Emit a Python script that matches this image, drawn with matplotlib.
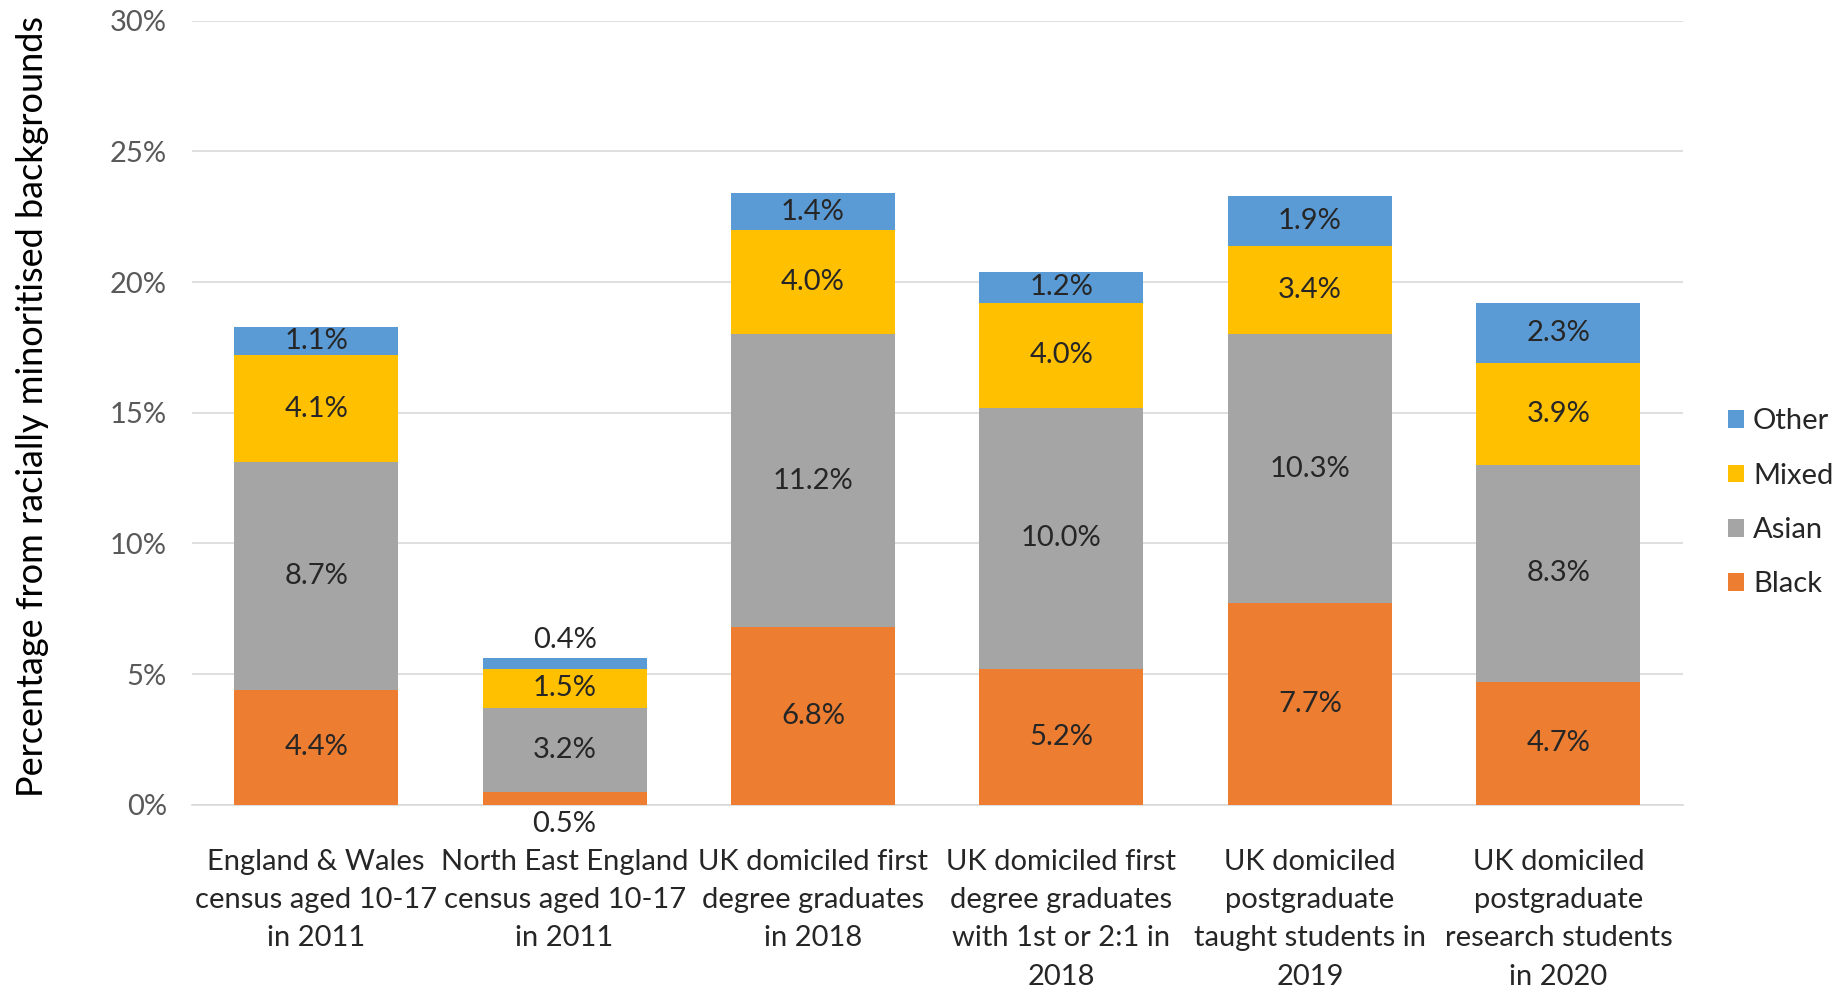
import matplotlib.pyplot as plt
import numpy as np

# categories and stacked series (percent)
categories = [
    "England & Wales\ncensus aged 10-17\nin 2011",
    "North East England\ncensus aged 10-17\nin 2011",
    "UK domiciled first\ndegree graduates\nin 2018",
    "UK domiciled first\ndegree graduates\nwith 1st or 2:1 in\n2018",
    "UK domiciled\npostgraduate\ntaught students in\n2019",
    "UK domiciled\npostgraduate\nresearch students\nin 2020",
]
black = [4.4, 0.5, 6.8, 5.2, 7.7, 4.7]
asian = [8.7, 3.2, 11.2, 10.0, 10.3, 8.3]
mixed = [4.1, 1.5, 4.0, 4.0, 3.4, 3.9]
other = [1.1, 0.4, 1.4, 1.2, 1.9, 2.3]

series = [("Black", black, "#ED7D31"),
          ("Asian", asian, "#A5A5A5"),
          ("Mixed", mixed, "#FFC000"),
          ("Other", other, "#5B9BD5")]

plt.rcParams['font.family'] = ['Lato', 'DejaVu Sans']

fig = plt.figure(figsize=(18.45, 9.91), dpi=100)
ax = fig.add_axes([0.104, 0.188, 0.808, 0.791])

x = np.arange(len(categories))
w = 0.66
bottom = np.zeros(len(categories))
for name, vals, col in series:
    vals = np.array(vals)
    ax.bar(x, vals, w, bottom=bottom, color=col, label=name, zorder=3)
    for i, v in enumerate(vals):
        if v < 1.0:
            # small segments: label outside the bar
            if name == "Black":
                ypos = -0.75
            else:
                ypos = bottom[i] + v + 0.7
        else:
            ypos = bottom[i] + v / 2
        ax.text(x[i], ypos, f"{v:.1f}%", ha='center', va='center',
                fontsize=21, color='#262626', zorder=4)
    bottom += vals

ax.set_xlim(-0.5, len(categories) - 0.5)
ax.set_ylim(0, 30)
ax.set_yticks(np.arange(0, 31, 5))
ax.set_yticklabels([f"{t}%" for t in range(0, 31, 5)], color='#595959', fontsize=21)
ax.set_xticks(x)
ax.set_xticklabels(categories, fontsize=21, color='#262626', linespacing=1.58)
ax.tick_params(axis='both', length=0)
ax.tick_params(axis='x', pad=32)
ax.tick_params(axis='y', pad=18)
ax.grid(axis='y', color='#D9D9D9', linewidth=1.2, zorder=0)
for s in ['top', 'right', 'left']:
    ax.spines[s].set_visible(False)
ax.spines['bottom'].set_color('#D9D9D9')
ax.spines['bottom'].set_linewidth(1.2)

ax.set_ylabel("Percentage from racially minoritised backgrounds", fontsize=26, color='#000000')
ax.yaxis.set_label_coords(-0.096, 0.508)

h, l = ax.get_legend_handles_labels()
ax.legend(h[::-1], l[::-1], loc='center left', bbox_to_anchor=(1.013, 0.385), frameon=False,
          fontsize=21, handlelength=0.55, handleheight=0.55, handletextpad=0.3,
          labelspacing=0.97, labelcolor='#262626')

fig.savefig("out.png", dpi=100)
